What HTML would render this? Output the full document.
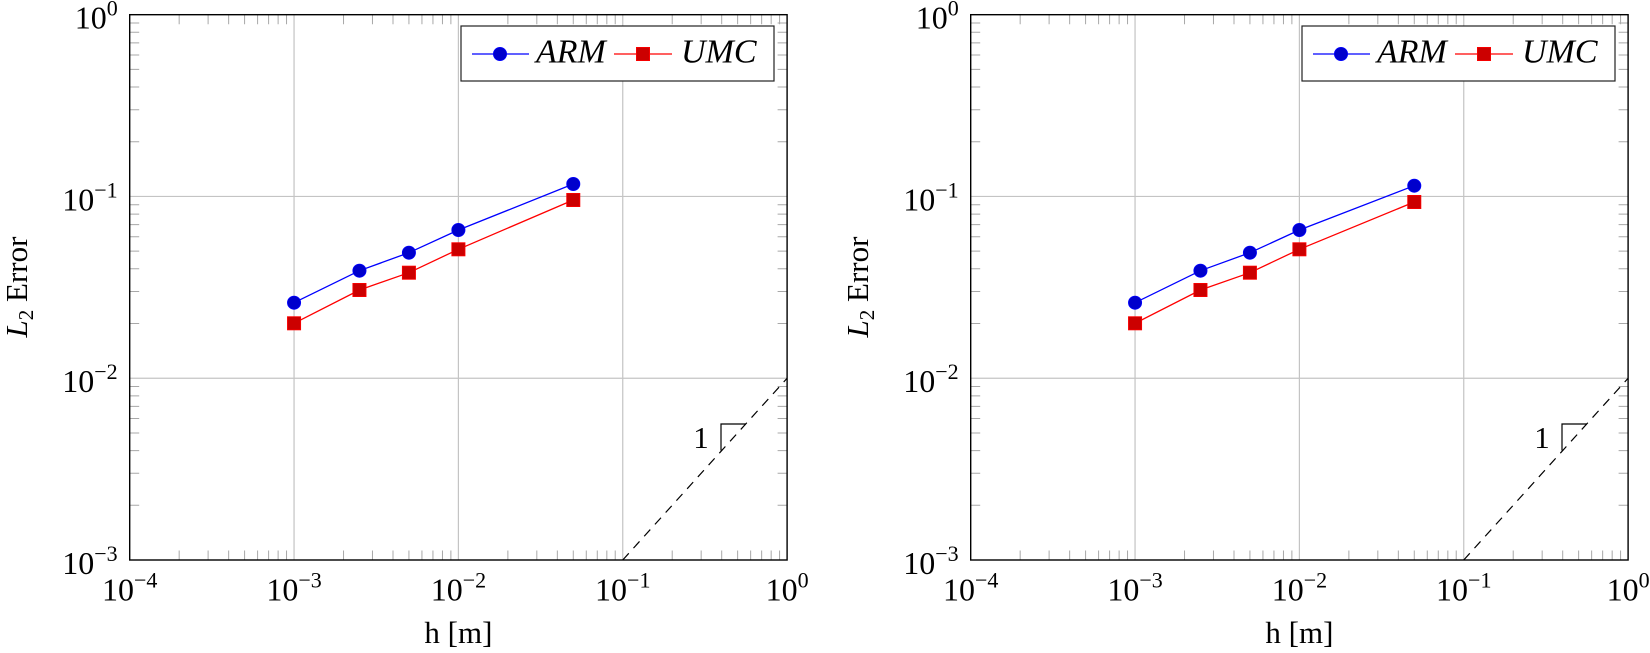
<!DOCTYPE html>
<html><head><meta charset="utf-8"><style>
html,body{margin:0;padding:0;background:#fff;}
svg{display:block;}
svg text{font-family:"Liberation Serif","Times New Roman",serif;}
</style></head><body>
<svg id="s" width="1650" height="653" viewBox="0 0 1650 653" xmlns="http://www.w3.org/2000/svg"></svg>
<script>
const svg=document.getElementById('s');
let h='';
const FF='font-family="Liberation Serif, Times New Roman, serif"';
const DX=164.35, DY=181.77, lg=[2,3,4,5,6,7,8,9].map(Math.log10);
function plot(ox, arm, umc){
  const L=ox+129.7, R=L+4*DX, B=560, T=B-3*DY;
  const X=v=>L+(v+4)*DX, Y=v=>B-(v+3)*DY;
  for(let d=-3;d<=-1;d++) h+=`<line x1="${X(d)}" y1="${T}" x2="${X(d)}" y2="${B}" stroke="#c4c4c4" stroke-width="1.2"/>`;
  for(let d=-2;d<=-1;d++) h+=`<line x1="${L}" y1="${Y(d)}" x2="${R}" y2="${Y(d)}" stroke="#c4c4c4" stroke-width="1.2"/>`;
  let p='';
  for(let d=-4;d<0;d++) for(const o of lg){const x=X(d+o); p+=`M${x} ${B}v-9.5M${x} ${T}v9.5`;}
  for(let d=-3;d<0;d++) for(const o of lg){const y=Y(d+o); p+=`M${L} ${y}h9.5M${R} ${y}h-9.5`;}
  h+=`<path d="${p}" stroke="#a8a8a8" stroke-width="1" fill="none"/>`;
  h+=`<line x1="${X(-1)}" y1="${Y(-3)}" x2="${X(0)}" y2="${Y(-2)}" stroke="#000" stroke-width="1.2" stroke-dasharray="9,7"/>`;
  h+=`<path d="M${ox+721} ${450.5}V${424}H${ox+746}" stroke="#000" stroke-width="1.2" fill="none"/>`;
  h+=`<text ${FF} x="${ox+701}" y="${448}" font-size="31" text-anchor="middle">1</text>`;
  const xs=[-3,Math.log10(2.5e-3),Math.log10(5e-3),-2,Math.log10(5e-2)].map(X);
  const pa=xs.map((x,i)=>x+','+arm[i]).join(' '), pu=xs.map((x,i)=>x+','+umc[i]).join(' ');
  h+=`<polyline points="${pa}" fill="none" stroke="#0000ff" stroke-width="1.3"/>`;
  h+=`<polyline points="${pu}" fill="none" stroke="#ff0000" stroke-width="1.3"/>`;
  xs.forEach((x,i)=>{h+=`<circle cx="${x}" cy="${arm[i]}" r="6.6" fill="#0000cc" stroke="#0000ff" stroke-width="0.8"/>`;});
  xs.forEach((x,i)=>{h+=`<rect x="${x-6.6}" y="${umc[i]-6.6}" width="13.2" height="13.2" fill="#cc0000" stroke="#ff0000" stroke-width="0.8"/>`;});
  h+=`<rect x="${L}" y="${T}" width="${R-L}" height="${B-T}" fill="none" stroke="#000" stroke-width="1.4"/>`;
  const lx=ox+461;
  h+=`<rect x="${lx}" y="26" width="313" height="55" fill="#fff" stroke="#222" stroke-width="1.2"/>`;
  h+=`<line x1="${ox+472}" y1="54" x2="${ox+529}" y2="54" stroke="#0000ff" stroke-width="1.3"/><circle cx="${ox+500}" cy="54" r="6.6" fill="#0000cc" stroke="#0000ff" stroke-width="0.8"/>`;
  h+=`<text ${FF} x="${ox+536}" y="62.7" font-size="34" font-style="italic">ARM</text>`;
  h+=`<line x1="${ox+614}" y1="54" x2="${ox+672}" y2="54" stroke="#ff0000" stroke-width="1.3"/><rect x="${ox+636.4}" y="47.4" width="13.2" height="13.2" fill="#cc0000" stroke="#ff0000" stroke-width="0.8"/>`;
  h+=`<text ${FF} x="${ox+681}" y="62.7" font-size="34" font-style="italic">UMC</text>`;
  for(let d=-4;d<=0;d++){
    h+=`<text ${FF} x="${X(d)}" y="600.7" font-size="32" text-anchor="middle">10<tspan font-size="22" dy="-13">${d==0?'0':'\u2212'+(-d)}</tspan></text>`;
  }
  for(let d=-3;d<=0;d++){
    h+=`<text ${FF} x="${L-12}" y="${Y(d)+14}" font-size="32" text-anchor="end">10<tspan font-size="22" dy="-13">${d==0?'0':'\u2212'+(-d)}</tspan></text>`;
  }
  h+=`<text ${FF} x="${(L+R)/2}" y="643" font-size="31" text-anchor="middle">h [m]</text>`;
  h+=`<text ${FF} transform="translate(${ox+27},287) rotate(-90)" font-size="31" text-anchor="middle"><tspan font-style="italic">L</tspan><tspan font-size="21" dy="6">2</tspan><tspan dy="-6"> Error</tspan></text>`;
}
plot(0,[302.7,270.7,252.7,230,184],[323.3,290,272.7,249.3,200]);
plot(841,[302.7,270.7,252.7,230,185.7],[323.3,290,272.7,249.3,202]);
svg.innerHTML=h;
</script>
</body></html>
